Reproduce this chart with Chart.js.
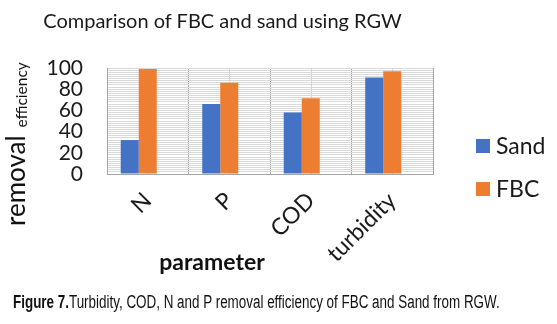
<!DOCTYPE html>
<html>
<head>
<meta charset="utf-8">
<script src="https://cdn.jsdelivr.net/npm/chart.js@4.4.1/dist/chart.umd.min.js"></script>
<style>
  html, body { margin: 0; padding: 0; background: #fff; }
  #wrap { position: relative; width: 557px; height: 324px; overflow: hidden; }
  #chart { position: absolute; left: 0; top: 0; }
  #title {
    position: absolute; left: 4px; top: 8px; width: 437px; text-align: center;
    font: 20px Lato, sans-serif; color: #1a1a1a; white-space: nowrap;
  }
  #caption {
    position: absolute; left: 13px; top: 292px; white-space: nowrap;
    font: 18px "Liberation Sans", Arial, sans-serif; color: #111;
    transform-origin: 0 0;
  }
  #caption b { font-weight: bold; }
</style>
</head>
<body>
<div id="wrap">
  <canvas id="chart" width="557" height="324"></canvas>
  <div id="title">Comparison of FBC and sand using RGW</div>
  <div id="caption"><b>Figure 7.</b>Turbidity, COD, N and P removal efficiency of FBC and Sand from RGW.</div>
</div>
<script>
const categories = ['N', 'P', 'COD', 'turbidity'];
const sandValues = [32, 66, 58, 91];
const fbcValues = [99, 86, 71.5, 97];
const yTickLabels = [0, 20, 40, 60, 80, 100];

const SAND_COLOR = '#4472C4';
const FBC_COLOR = '#ED7D31';

// squeeze the caption into a narrow face
const caption = document.getElementById('caption');
caption.style.transform = 'scaleX(' + (487 / caption.offsetWidth) + ')';

// light lines through the middle of each category, under the bars
const centerLines = {
    id: 'centerLines',
    beforeDatasetsDraw(chart) {
        const { ctx, chartArea, scales } = chart;
        ctx.save();
        ctx.strokeStyle = '#d4d4d4';
        ctx.lineWidth = 1;
        scales.x.ticks.forEach((t, i) => {
            const px = Math.round(scales.x.getPixelForTick(i)) + 0.5;
            ctx.beginPath();
            ctx.moveTo(px, chartArea.top);
            ctx.lineTo(px, chartArea.bottom);
            ctx.stroke();
        });
        ctx.restore();
    }
};

// axis titles and legend on the right
const extras = {
    id: 'extras',
    afterDraw(chart) {
        const { ctx } = chart;
        ctx.save();
        ctx.fillStyle = '#111';

        ctx.font = 'bold 23px Lato, sans-serif';
        ctx.textAlign = 'center';
        ctx.textBaseline = 'middle';
        ctx.fillText('parameter', 212, 263);

        ctx.save();
        ctx.translate(25, 226);
        ctx.rotate(-Math.PI / 2);
        ctx.textAlign = 'left';
        ctx.textBaseline = 'alphabetic';
        ctx.font = '26px Lato, sans-serif';
        ctx.fillText('removal', 0, 0);
        const w = ctx.measureText('removal').width + 8;
        ctx.font = '15.5px Lato, sans-serif';
        ctx.fillText('efficiency', w, 2);
        ctx.restore();

        const items = chart.data.datasets.filter(d => d.label);
        items.forEach((d, i) => {
            const y = 146 + i * 43;
            ctx.fillStyle = d.backgroundColor;
            ctx.fillRect(476, y - 7, 14, 14);
            ctx.fillStyle = '#1a1a1a';
            ctx.font = '23px Lato, sans-serif';
            ctx.textAlign = 'left';
            ctx.textBaseline = 'middle';
            ctx.fillText(d.label, 496, y + 1);
        });
        ctx.restore();
    }
};

new Chart(document.getElementById('chart'), {
    type: 'bar',
    data: {
        labels: categories,
        datasets: [
            { label: 'Sand', data: sandValues, backgroundColor: SAND_COLOR },
            { label: 'FBC', data: fbcValues, backgroundColor: FBC_COLOR },
            // empty third slot, keeps the pair left of centre
            { label: '', data: categories.map(() => null), backgroundColor: 'transparent' }
        ]
    },
    options: {
        responsive: false,
        animation: false,
        layout: { padding: { top: 68, right: 124, left: 0, bottom: 0 } },
        datasets: {
            bar: { categoryPercentage: 0.663, barPercentage: 1.0 }
        },
        scales: {
            x: {
                afterFit: s => { s.height = 150; },
                grid: { offset: true, color: '#a6a6a6', lineWidth: 1, drawTicks: false },
                border: { color: '#a6a6a6' },
                ticks: {
                    color: '#1a1a1a',
                    font: { family: 'Lato, sans-serif', size: 23 },
                    minRotation: 45, maxRotation: 45,
                    padding: 13
                }
            },
            y: {
                min: 0, max: 100,
                afterFit: s => { s.width = 107; },
                grid: { color: '#d9d9d9', lineWidth: 1, drawTicks: false },
                border: { color: '#a6a6a6' },
                ticks: {
                    stepSize: 2,
                    autoSkip: false,
                    padding: 24,
                    color: '#1a1a1a',
                    font: { family: 'Lato, sans-serif', size: 21 },
                    callback: v => yTickLabels.includes(v) ? v : ''
                }
            }
        },
        plugins: {
            legend: { display: false },
            tooltip: { enabled: false }
        }
    },
    plugins: [centerLines, extras]
});
</script>
</body>
</html>
